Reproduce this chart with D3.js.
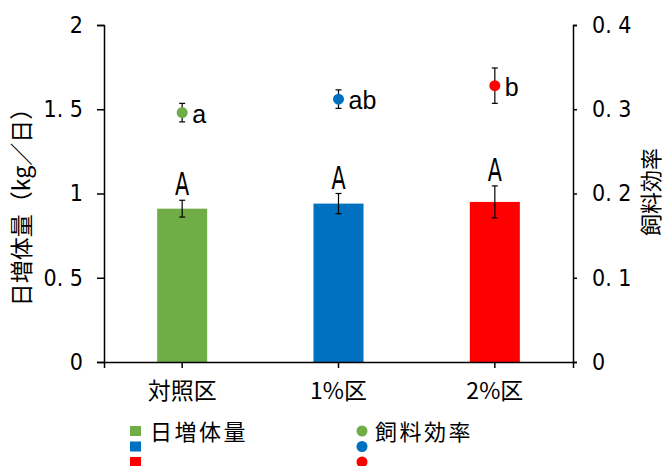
<!DOCTYPE html>
<html>
<head>
<meta charset="utf-8">
<script src="https://cdn.jsdelivr.net/npm/d3@7"></script>
<style>
  body { margin: 0; background: #fff; }
  .num { font-family: "DejaVu Sans Condensed", "DejaVu Sans", sans-serif; font-stretch: condensed; }
  .jp { font-family: "Noto Sans CJK JP", sans-serif; }
</style>
</head>
<body>
<div id="chart"></div>
<script>
// données du graphique
const categories = ["対照区", "1%区", "2%区"];
const gainValues = [0.91, 0.94, 0.95];     // 日増体量 (kg/日)
const gainErrors = [0.05, 0.06, 0.095];
const gainLetters = ["A", "A", "A"];
const effValues = [0.296, 0.312, 0.328];   // 飼料効率
const effErrors = [0.011, 0.011, 0.021];
const effLetters = ["a", "ab", "b"];
const leftTicks = [0, 0.5, 1, 1.5, 2];
const rightTicks = [0, 0.1, 0.2, 0.3, 0.4];
const colors = ["#70AD47", "#0070C0", "#FF0000"];

const width = 666;
const height = 466;
const marginLeft = 104;
const marginRight = 93;
const marginTop = 25;
const plotBottom = 362;

const svg = d3.select("#chart")
    .append("svg")
    .attr("width", width)
    .attr("height", height);

const x = d3.scaleBand()
    .domain(categories)
    .range([marginLeft, width - marginRight])
    .padding(0);

const yLeft = d3.scaleLinear()
    .domain([0, 2])
    .range([plotBottom, marginTop]);

const yRight = d3.scaleLinear()
    .domain([0, 0.4])
    .range([plotBottom, marginTop]);

const barW = x.bandwidth() * 0.32;
const cx = d => x(d) + x.bandwidth() / 2;
const fmt = v => (v === 0 || Number.isInteger(v)) ? String(v) : String(v).replace(".", ". ");

// barres
svg.append("g")
    .selectAll("rect")
    .data(categories)
    .join("rect")
    .attr("x", d => cx(d) - barW / 2)
    .attr("y", (d, i) => yLeft(gainValues[i]))
    .attr("width", barW)
    .attr("height", (d, i) => yLeft(0) - yLeft(gainValues[i]))
    .attr("fill", (d, i) => colors[i]);

// barres d'erreur
const errG = svg.append("g").attr("stroke", "#000").attr("stroke-width", 1.2);
categories.forEach((c, i) => {
    const x0 = cx(c);
    const top = yLeft(gainValues[i] + gainErrors[i]);
    const bot = yLeft(gainValues[i] - gainErrors[i]);
    errG.append("line").attr("x1", x0).attr("x2", x0).attr("y1", top).attr("y2", bot);
    errG.append("line").attr("x1", x0 - 3).attr("x2", x0 + 3).attr("y1", top).attr("y2", top);
    errG.append("line").attr("x1", x0 - 3).attr("x2", x0 + 3).attr("y1", bot).attr("y2", bot);

    const ptop = yRight(effValues[i] + effErrors[i]);
    const pbot = yRight(effValues[i] - effErrors[i]);
    errG.append("line").attr("x1", x0).attr("x2", x0).attr("y1", ptop).attr("y2", pbot);
    errG.append("line").attr("x1", x0 - 3).attr("x2", x0 + 3).attr("y1", ptop).attr("y2", ptop);
    errG.append("line").attr("x1", x0 - 3).attr("x2", x0 + 3).attr("y1", pbot).attr("y2", pbot);
});

// lettres au-dessus des barres (police étroite simulée)
svg.append("g")
    .selectAll("text")
    .data(categories)
    .join("text")
    .attr("class", "num")
    .attr("transform", (d, i) => `translate(${cx(d)},${yLeft(gainValues[i] + gainErrors[i]) - 5}) scale(0.72,1)`)
    .attr("text-anchor", "middle")
    .style("font-size", "32px")
    .text((d, i) => gainLetters[i]);

// points 飼料効率
svg.append("g")
    .selectAll("circle")
    .data(categories)
    .join("circle")
    .attr("cx", d => cx(d))
    .attr("cy", (d, i) => yRight(effValues[i]))
    .attr("r", 5.5)
    .attr("fill", (d, i) => colors[i]);

svg.append("g")
    .selectAll("text")
    .data(categories)
    .join("text")
    .attr("x", d => cx(d) + 10)
    .attr("y", (d, i) => yRight(effValues[i]) + 10)
    .style("font-family", "Liberation Sans, sans-serif")
    .style("font-size", "25px")
    .text((d, i) => effLetters[i]);

// axes
const axisLeft = svg.append("g")
    .attr("transform", `translate(${marginLeft},0)`)
    .call(d3.axisLeft(yLeft).tickValues(leftTicks).tickFormat(fmt).tickSizeOuter(0).tickSize(7).tickPadding(14));

const axisRight = svg.append("g")
    .attr("transform", `translate(${width - marginRight},0)`)
    .call(d3.axisRight(yRight).tickValues(rightTicks).tickFormat(fmt).tickSizeOuter(0).tickSize(4).tickPadding(15));

const axisBottom = svg.append("g")
    .attr("transform", `translate(0,${plotBottom})`)
    .call(d3.axisBottom(x).tickSizeOuter(0).tickSize(6).tickPadding(15));

[axisLeft, axisRight, axisBottom].forEach(g => {
    g.selectAll(".domain, line").attr("stroke", "#000").attr("stroke-width", 1.5);
});
axisLeft.selectAll("text").attr("class", "num").style("font-size", "23px").attr("fill", "#000");
axisRight.selectAll("text").attr("class", "num").style("font-size", "23px").attr("fill", "#000");
axisBottom.selectAll("text").attr("class", "jp").style("font-size", "23px").attr("fill", "#000");

// titres des axes
svg.append("text")
    .attr("class", "jp")
    .attr("transform", `translate(30,${(marginTop + plotBottom) / 2 + 8}) rotate(-90)`)
    .attr("text-anchor", "middle")
    .style("font-size", "23px")
    .text("日増体量（kg／日）");

svg.append("text")
    .attr("class", "jp")
    .attr("transform", `translate(659,192) rotate(-90)`)
    .attr("text-anchor", "middle")
    .style("font-size", "22px")
    .text("飼料効率");

// légende
const legend = svg.append("g");
colors.forEach((c, i) => {
    legend.append("rect")
        .attr("x", 130).attr("y", 426 + i * 15.5)
        .attr("width", 11).attr("height", 10)
        .attr("fill", c);
    legend.append("circle")
        .attr("cx", 362).attr("cy", 431 + i * 15.5)
        .attr("r", 5.5)
        .attr("fill", c);
});
legend.append("text")
    .attr("class", "jp")
    .attr("x", 150).attr("y", 440)
    .style("font-size", "22px")
    .style("letter-spacing", "2.5px")
    .text("日増体量");
legend.append("text")
    .attr("class", "jp")
    .attr("x", 375).attr("y", 440)
    .style("font-size", "22px")
    .style("letter-spacing", "2.5px")
    .text("飼料効率");
</script>
</body>
</html>
